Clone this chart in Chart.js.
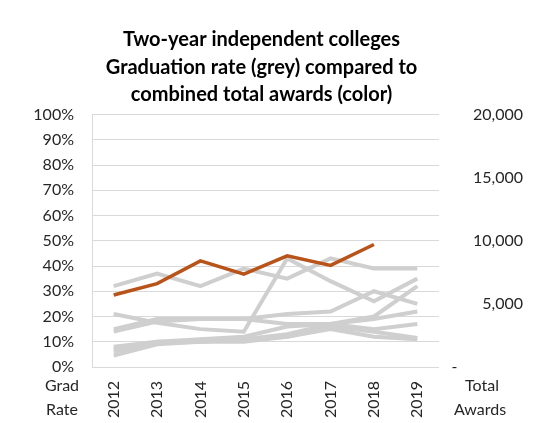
<!DOCTYPE html>
<html>
<head>
<meta charset="utf-8">
<script src="https://cdn.jsdelivr.net/npm/chart.js@4"></script>
<style>
  html, body { margin: 0; padding: 0; background: #fff; }
  #wrap { width: 539px; height: 423px; }
</style>
</head>
<body>
<div id="wrap"><canvas id="chart" width="539" height="423"></canvas></div>
<script>
// categories
const years = ['2012', '2013', '2014', '2015', '2016', '2017', '2018', '2019'];

// graduation rates (grey, left axis, %)
const gradA = [32, 37, 32, 39, 35, 43, 39, 39];
const gradB = [14, 18, 19, 19, 21, 22, 30, 25];
const gradC = [21, 17.5, 15, 14, 43, 34, 26, 35];
const gradD = [15, 19, 19, 19, 17, 17, 20, 32];
const gradE = [8, 10, 11, 12, 16, 17, 19, 22];
const gradF = [6, 10, 10, 11, 13, 17, 15, 17];
const gradG = [4.5, 9, 10, 10, 12, 15, 12, 11];
const gradH = [7, 9.5, 10, 11, 12, 16, 14, 11.5];
const gradSeries = [gradA, gradB, gradC, gradD, gradE, gradF, gradG, gradH];

// combined total awards (color, right axis)
const totalAwards = [5700, 6600, 8400, 7350, 8800, 8050, 9700, null];

// tick values
const rateTicks = [0, 10, 20, 30, 40, 50, 60, 70, 80, 90, 100];
const awardTicks = [0, 5000, 10000, 15000, 20000];

const titleLines = ['Two-year independent colleges', 'Graduation rate (grey) compared to', 'combined total awards (color)'];

const FONT = 'Lato, Calibri, "Open Sans", sans-serif';
const GREY_LINE = '#d0cfcf';
const BROWN = '#b8541a';
const GRID = '#d9d9d9';

const datasets = [{
    label: 'Total awards',
    data: totalAwards,
    yAxisID: 'yR',
    borderColor: BROWN,
    borderWidth: 3.5,
    pointRadius: 0,
    tension: 0,
    order: 0
}];
gradSeries.forEach((s, i) => {
    datasets.push({
        label: 'Grad rate ' + (i + 1),
        data: s,
        yAxisID: 'yL',
        borderColor: GREY_LINE,
        borderWidth: 4,
        pointRadius: 0,
        tension: 0,
        order: 1
    });
});

// axis captions under the tick labels
const captions = {
    id: 'captions',
    afterDraw(chart) {
        const ctx = chart.ctx;
        ctx.save();
        ctx.font = '16px ' + FONT;
        ctx.fillStyle = '#262626';
        ctx.textAlign = 'center';
        ctx.textBaseline = 'middle';
        ctx.fillText('Grad', 62, 386);
        ctx.fillText('Rate', 62, 410);
        ctx.fillText('Total', 482, 386);
        ctx.fillText('Awards', 480, 410);
        ctx.restore();
    }
};

new Chart(document.getElementById('chart'), {
    type: 'line',
    data: { labels: years, datasets: datasets },
    plugins: [captions],
    options: {
        responsive: false,
        animation: false,
        layout: { padding: { left: 0, right: 16, top: 0, bottom: 0 } },
        plugins: {
            legend: { display: false },
            tooltip: { enabled: false },
            title: {
                display: true,
                text: titleLines,
                color: '#000',
                font: { family: FONT, size: 20, weight: 'bold', lineHeight: 1.375 },
                padding: { top: 26, bottom: 6 }
            }
        },
        scales: {
            x: {
                offset: true,
                grid: { display: false },
                border: { display: false },
                ticks: {
                    color: '#262626',
                    font: { family: FONT, size: 16 },
                    maxRotation: 90,
                    minRotation: 90,
                    padding: 6
                },
                afterFit(scale) { scale.height = 56; }
            },
            yL: {
                position: 'left',
                min: 0,
                max: 100,
                afterBuildTicks(scale) { scale.ticks = rateTicks.map(v => ({ value: v })); },
                grid: { color: GRID, lineWidth: 1, drawTicks: false },
                border: { display: true, color: GRID },
                ticks: {
                    color: '#262626',
                    font: { family: FONT, size: 16 },
                    padding: 18,
                    callback: v => v + '%'
                },
                afterFit(scale) { scale.width = 92; }
            },
            yR: {
                position: 'right',
                min: 0,
                max: 20000,
                afterBuildTicks(scale) { scale.ticks = awardTicks.map(v => ({ value: v })); },
                grid: { display: false },
                border: { display: false },
                ticks: {
                    color: '#262626',
                    font: { family: FONT, size: 16 },
                    crossAlign: 'far',
                    padding: 0,
                    callback: v => v === 0 ? '-                ' : v.toLocaleString('en-US')
                },
                afterFit(scale) { scale.width = 84; }
            }
        }
    }
});
</script>
</body>
</html>
